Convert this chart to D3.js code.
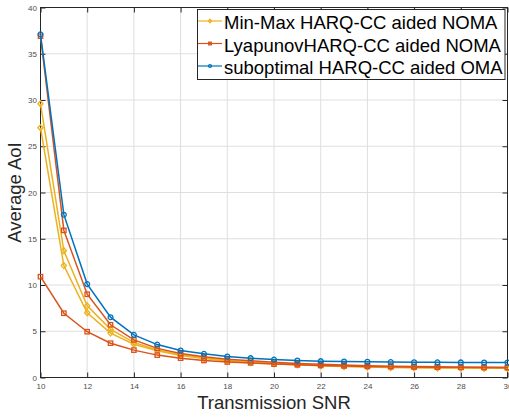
<!DOCTYPE html>
<html>
<head>
<meta charset="utf-8">
<script src="https://cdn.jsdelivr.net/npm/d3@7"></script>
<style>
  body { margin: 0; background: #fff; }
  svg { display: block; font-family: "Liberation Sans", Arial, Helvetica, sans-serif; }
</style>
</head>
<body>
<svg id="chart" width="509" height="417"></svg>
<script>
// x values (transmission SNR)
const snr = d3.range(10, 31);

// Min-Max HARQ-CC aided NOMA (two curves, yellow)
const minMaxA = [29.6, 13.7, 7.75, 5.2, 3.8, 2.98, 2.45, 2.1, 1.85, 1.67, 1.52, 1.4, 1.3, 1.22, 1.16, 1.12, 1.08, 1.05, 1.03, 1.02, 1.01];
const minMaxB = [27.0, 12.1, 7.0, 4.8, 3.6, 2.88, 2.38, 2.05, 1.81, 1.63, 1.49, 1.37, 1.27, 1.19, 1.13, 1.09, 1.06, 1.04, 1.02, 1.01, 1.0];

// LyapunovHARQ-CC aided NOMA (two curves, orange)
const lyapA = [36.9, 15.9, 9.0, 5.7, 4.07, 3.15, 2.6, 2.25, 1.98, 1.8, 1.65, 1.52, 1.42, 1.35, 1.28, 1.22, 1.18, 1.15, 1.12, 1.1, 1.08];
const lyapB = [10.9, 6.95, 4.95, 3.71, 2.96, 2.42, 2.09, 1.84, 1.68, 1.58, 1.45, 1.37, 1.3, 1.25, 1.2, 1.17, 1.14, 1.12, 1.1, 1.09, 1.08];

// suboptimal HARQ-CC aided OMA (blue)
const subOMA = [37.1, 17.6, 10.1, 6.52, 4.61, 3.56, 2.92, 2.56, 2.27, 2.09, 1.94, 1.84, 1.77, 1.73, 1.7, 1.67, 1.65, 1.64, 1.63, 1.62, 1.62];

const xTicks = [10, 12, 14, 16, 18, 20, 22, 24, 26, 28, 30];
const yTicks = [0, 5, 10, 15, 20, 25, 30, 35, 40];
const legendNames = ["Min-Max HARQ-CC aided NOMA", "LyapunovHARQ-CC aided NOMA", "suboptimal HARQ-CC aided OMA"];

const colors = { yellow: "#EDB120", orange: "#D95319", blue: "#0072BD" };

const series = [
  { values: minMaxA, color: colors.yellow, marker: "diamond" },
  { values: minMaxB, color: colors.yellow, marker: "diamond" },
  { values: lyapA, color: colors.orange, marker: "square" },
  { values: lyapB, color: colors.orange, marker: "square" },
  { values: subOMA, color: colors.blue, marker: "circle" }
];

const margin = { top: 7.5, right: 1.5, bottom: 39.5, left: 40.5 };
const width = 509, height = 417;

const svg = d3.select("#chart");

const x = d3.scaleLinear().domain([10, 30]).range([margin.left, width - margin.right]);
const y = d3.scaleLinear().domain([0, 40]).range([height - margin.bottom, margin.top]);

// grid
const grid = svg.append("g").attr("stroke", "#dfdfdf").attr("stroke-width", 1);
grid.selectAll(".gx").data(xTicks).join("line")
  .attr("x1", d => x(d)).attr("x2", d => x(d))
  .attr("y1", y(0)).attr("y2", y(40));
grid.selectAll(".gy").data(yTicks).join("line")
  .attr("x1", x(10)).attr("x2", x(30))
  .attr("y1", d => y(d)).attr("y2", d => y(d));

// axes, ticks inward
const axisColor = "#262626";
function styleAxis(g) {
  g.select(".domain").remove();
  g.selectAll(".tick line").attr("stroke", axisColor);
  g.selectAll(".tick text").attr("fill", "#4d4d4d").attr("font-size", 8);
}

svg.append("g")
  .attr("transform", `translate(0,${y(0)})`)
  .call(d3.axisBottom(x).tickValues(xTicks).tickSize(-5).tickPadding(5.5))
  .call(styleAxis);
svg.append("g")
  .attr("transform", `translate(0,${y(40)})`)
  .call(d3.axisTop(x).tickValues(xTicks).tickSize(-5).tickFormat(""))
  .call(styleAxis);
svg.append("g")
  .attr("transform", `translate(${x(10)},0)`)
  .call(d3.axisLeft(y).tickValues(yTicks).tickSize(-5).tickPadding(3.5))
  .call(styleAxis);
svg.append("g")
  .attr("transform", `translate(${x(30)},0)`)
  .call(d3.axisRight(y).tickValues(yTicks).tickSize(-5).tickFormat(""))
  .call(styleAxis);

// box
svg.append("rect")
  .attr("x", x(10)).attr("y", y(40))
  .attr("width", x(30) - x(10)).attr("height", y(0) - y(40))
  .attr("fill", "none").attr("stroke", axisColor).attr("stroke-width", 1);

// axis labels
svg.append("text")
  .attr("x", (x(10) + x(30)) / 2).attr("y", 409)
  .attr("text-anchor", "middle").attr("font-size", 18.5).attr("fill", "#262626")
  .text("Transmission SNR");
svg.append("text")
  .attr("transform", `translate(20.5,${(y(0) + y(40)) / 2}) rotate(-90)`)
  .attr("text-anchor", "middle").attr("font-size", 18.5).attr("fill", "#262626")
  .text("Average AoI");

// marker drawing
function drawMarker(sel, type, color, s) {
  if (type === "circle") {
    sel.append("circle").attr("r", 2.4 * s);
  } else if (type === "square") {
    sel.append("rect").attr("x", -2.2 * s).attr("y", -2.2 * s).attr("width", 4.4 * s).attr("height", 4.4 * s);
  } else {
    sel.append("path").attr("d", `M0,${-3 * s}L${2.6 * s},0L0,${3 * s}L${-2.6 * s},0Z`);
  }
  sel.selectAll("circle,rect,path").attr("fill", "none").attr("stroke", color).attr("stroke-width", 1.3);
}

const line = d3.line().x((d, i) => x(snr[i])).y(d => y(d));

series.forEach(s => {
  const g = svg.append("g");
  g.append("path").datum(s.values)
    .attr("d", line).attr("fill", "none")
    .attr("stroke", s.color).attr("stroke-width", 1.5);
  g.selectAll("g.m").data(s.values).join("g")
    .attr("transform", (d, i) => `translate(${x(snr[i])},${y(d)})`)
    .each(function () { drawMarker(d3.select(this), s.marker, s.color, 1); });
});

// legend
const legend = svg.append("g");
legend.append("rect")
  .attr("x", 197.5).attr("y", 9.5).attr("width", 307.5).attr("height", 70)
  .attr("fill", "#fff").attr("stroke", axisColor).attr("stroke-width", 1);
const legendItems = [
  { name: legendNames[0], color: colors.yellow, marker: "diamond" },
  { name: legendNames[1], color: colors.orange, marker: "square" },
  { name: legendNames[2], color: colors.blue, marker: "circle" }
];
legendItems.forEach((d, i) => {
  const base = 29 + i * 22.5;
  const row = legend.append("g");
  row.append("line")
    .attr("x1", 198).attr("x2", 222).attr("y1", base - 8).attr("y2", base - 8)
    .attr("stroke", d.color).attr("stroke-width", 1.2);
  const m = row.append("g").attr("transform", `translate(210,${base - 8})`);
  drawMarker(m, d.marker, d.color, 0.6);
  row.append("text")
    .attr("x", 224).attr("y", base)
    .attr("font-size", 18.5).attr("fill", "#000")
    .text(d.name);
});
</script>
</body>
</html>
